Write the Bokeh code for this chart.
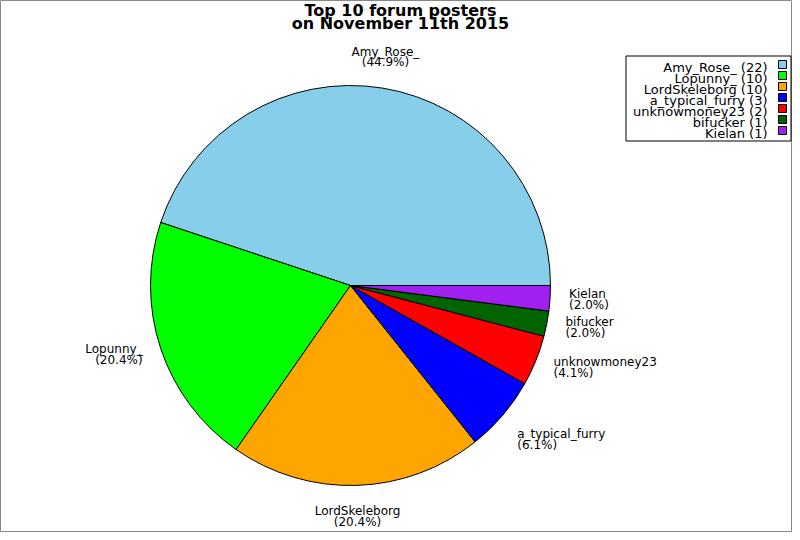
import numpy as np
from bokeh.core.properties import value
from bokeh.embed import file_html
from bokeh.models import ColumnDataSource, Range1d
from bokeh.plotting import figure
from bokeh.resources import INLINE

# Top 10 forum posters, pie chart with a legend on the right

names = ["Amy_Rose_", "Lopunny_", "LordSkeleborg", "a_typical_furry",
         "unknowmoney23", "bifucker", "Kielan"]
posts = [22, 10, 10, 3, 2, 1, 1]
colors = ["#87CEEB", "#00FF00", "#FFA500", "#0000FF", "#FF0000", "#006400", "#A020F0"]

title_lines = ["Top 10 forum posters", "on November 11th 2015"]

W, H = 792, 532
FONT = value("DejaVu Sans")

# data space = picture pixel space (y flipped so that it grows upward)
def fy(y):
    return H - y

CX, CY, R = 350, fy(285), 200

vals = np.array(posts, dtype=float)
frac = vals / vals.sum()
ends = np.cumsum(frac) * 2 * np.pi
starts = ends - frac * 2 * np.pi
mids = (starts + ends) / 2

lr = R * 1.095
align = ["left" if np.cos(a) > 0.5 else ("right" if np.cos(a) < -0.5 else "center") for a in mids]
base = ["bottom" if np.sin(a) > 0.5 else ("top" if np.sin(a) < -0.5 else "middle") for a in mids]
labels = ["%s\n(%.1f%%)" % (n, f * 100) for n, f in zip(names, frac)]

source = ColumnDataSource(dict(
    name=names, posts=posts, color=colors,
    start=starts, end=ends,
    lx=CX + lr * np.cos(mids), ly=CY + lr * np.sin(mids),
    label=labels, align=align, base=base,
))

p = figure(width=W, height=H, x_range=Range1d(0, W), y_range=Range1d(0, H),
           output_backend="svg", toolbar_location=None, min_border=0)
p.axis.visible = False
p.grid.visible = False
p.outline_line_color = "#888888"
p.background_fill_color = "white"
p.border_fill_color = "white"

p.wedge(x=CX, y=CY, radius=R, start_angle="start", end_angle="end", direction="anticlock",
        fill_color="color", line_color="black", line_width=1, source=source)

p.text(x="lx", y="ly", text="label", text_align="align", text_baseline="base",
       text_font=FONT, text_font_size="12px", text_line_height=0.75,
       text_color="black", source=source)

# title
p.text(x=[400, 400], y=[fy(10), fy(23)], text=title_lines, text_align="center",
       text_baseline="alphabetic", text_font=FONT, text_font_size="16px",
       text_font_style="bold", text_color="black")

# legend, labels right-aligned with the swatch on the right
n = len(names)
rows = np.arange(n)
leg = ColumnDataSource(dict(
    text=["%s (%d)" % (nm, v) for nm, v in zip(names, posts)],
    color=colors,
    ty=fy(67 + 11 * rows),
    sy=fy(64 + 11 * rows),
))
p.quad(left=625.5, right=790.5, top=fy(55.5), bottom=fy(140.5), fill_color="white",
       line_color="black", line_width=1)
p.rect(x=782, y="sy", width=8, height=8, fill_color="color", line_color="black",
       line_width=1, source=leg)
p.text(x=767, y="ty", text="text", text_align="right", text_baseline="alphabetic",
       text_font=FONT, text_font_size="13px", text_color="black", source=leg)

open("out.html", "w").write(file_html(p, INLINE))
